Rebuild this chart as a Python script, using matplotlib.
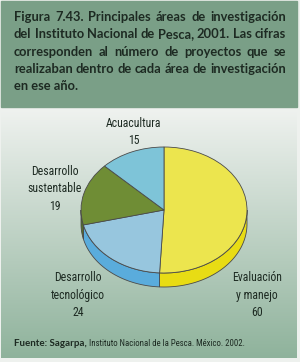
import matplotlib.pyplot as plt
import numpy as np
from matplotlib.patches import Rectangle

# datos de la figura
categorias = ['Evaluación\ny manejo', 'Desarrollo\ntecnológico', 'Desarrollo\nsustentable', 'Acuacultura']
proyectos = [60, 24, 19, 15]
colores = ['#ece54e', '#97c6de', '#6f8d35', '#7ec4d8']
colores_lado = ['#e8dc14', '#5aacdc', '#56702a', '#5aa8c0']

titulo = ['Figura 7.43. Principales áreas de investigación',
          'del Instituto Nacional de Pesca, 2001. Las cifras',
          'corresponden al número de proyectos que se',
          'realizaban dentro de cada área de investigación',
          'en ese año.']
fuente_bold = 'Fuente: Sagarpa,'
fuente_resto = ' Instituto Nacional de la Pesca. México. 2002.'

estrecha = ['Roboto Condensed', 'Liberation Sans Narrow', 'Open Sans Condensed', 'Lato']

fig = plt.figure(figsize=(3.0, 3.62), dpi=100)
fig.patch.set_facecolor('#eef1ee')

# fondo en coordenadas de pixel
bg = fig.add_axes([0, 0, 1, 1])
bg.add_patch(Rectangle((1, 1), 296, 106, color='#7a9f87', zorder=1))
c_top = np.array([0.94, 0.95, 0.94])
c_bot = np.array([0.56, 0.70, 0.61])
t = np.linspace(0, 1, 200)[:, None, None]
grad = c_top * (1 - t) + c_bot * t
bg.imshow(grad, extent=(1, 297, 358, 107), aspect='auto', zorder=0)
bg.set_xlim(0, 300)
bg.set_ylim(362, 0)
bg.axis('off')

# titulo justificado
r = fig.canvas.get_renderer()
tit_kw = dict(fontsize=9.3, fontweight='bold', color='#1d2a22', family='Lato', va='baseline')
for i, linea in enumerate(titulo):
    y = 21 + i * 17.3
    if i == len(titulo) - 1:
        bg.text(14, y, linea, **tit_kw)
        continue
    palabras = linea.split()
    arts = [bg.text(0, y, p, **tit_kw) for p in palabras]
    anchos = [a.get_window_extent(r).width for a in arts]
    hueco = (286 - 14 - sum(anchos)) / (len(palabras) - 1)
    x = 14
    for a, w in zip(arts, anchos):
        a.set_x(x)
        x += w + hueco

# pastel 3D
cx, cy, rx, ry = 164, 210, 83, 63
prof = 14 / ry
x0, x1, y0, y1 = -1.3, 1.3, -1.6, 1.3
ax = fig.add_axes([(cx + x0 * rx) / 300, (362 - (cy - y0 * ry)) / 362,
                   (x1 - x0) * rx / 300, (y1 - y0) * ry / 362])
total = sum(proyectos)
ang = 90 - np.cumsum([0] + proyectos) / total * 360
for k in range(len(proyectos)):
    a1, a2 = ang[k + 1], ang[k]
    lo, hi = max(a1, -180), min(a2, 0)
    if lo < hi:
        tt = np.radians(np.linspace(lo, hi, 60))
        xs = np.concatenate([np.cos(tt), np.cos(tt[::-1])])
        ys = np.concatenate([np.sin(tt), np.sin(tt[::-1]) - prof])
        ax.fill(xs, ys, color=colores_lado[k], ec='#4a4a4a', lw=0.6)
ax.pie(proyectos, colors=colores, startangle=90, counterclock=False,
       wedgeprops=dict(edgecolor='#4a4a4a', linewidth=0.6))
ax.set_aspect('auto')
ax.set_xlim(x0, x1)
ax.set_ylim(y0, y1)
ax.axis('off')

# etiquetas
lab_kw = dict(fontsize=8.5, color='#1d2a22', family=estrecha, fontstretch='condensed',
              ha='center', va='center', linespacing=1.45)
pos = [(257, 295), (78, 295), (55, 189), (134, 132)]
for nombre, v, (px, py) in zip(categorias, proyectos, pos):
    bg.text(px, py, nombre + '\n' + str(v), **lab_kw)

# fuente
t1 = bg.text(14, 346, fuente_bold, fontsize=7, fontweight='bold', color='#1d2a22',
             family='Lato', va='baseline')
bg.annotate(fuente_resto, xy=(1, 0), xycoords=t1, va='bottom', fontsize=6.3,
            color='#1d2a22', family=estrecha, fontstretch='condensed')

plt.savefig('out.png', dpi=100, facecolor=fig.get_facecolor())
